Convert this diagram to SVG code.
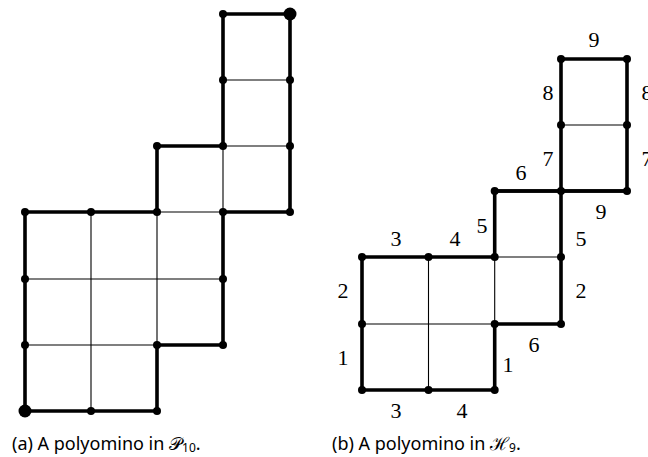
<svg xmlns="http://www.w3.org/2000/svg" width="648" height="457" viewBox="0 0 648 457">
<style>
.thick{fill:none;stroke:#000;stroke-width:3.6;stroke-linejoin:miter;stroke-linecap:square}
.thin{fill:none;stroke:#000;stroke-width:1.1}
.dot{fill:#000}
.num{font-family:"Liberation Serif","DejaVu Serif",serif;font-size:22px;text-anchor:middle;fill:#000}
.cap{font-family:"Noto Sans","Open Sans",sans-serif;font-size:18px;fill:#000}
.sub{font-size:12px}
</style>
<rect width="648" height="457" fill="#fff"/>
<g id="polyomino-a">
  <g id="a-thin">
    <path class="thin" d="M223,80H290M223,146H290M223,146V212M157,212H223M91,212V411M157,212V345M25,279H223M25,345H157"/>
  </g>
  <g id="a-boundary">
    <path class="thick" d="M25,212H157V146H223V14H290V212H223V345H157V411H25Z"/>
  </g>
  <g id="a-dots" class="dot">
    <circle cx="223" cy="14" r="4"/><circle cx="290" cy="14" r="6.5"/>
    <circle cx="223" cy="80" r="4"/><circle cx="290" cy="80" r="4"/>
    <circle cx="157" cy="146" r="4"/><circle cx="223" cy="146" r="4"/><circle cx="290" cy="146" r="4"/>
    <circle cx="25" cy="212" r="4"/><circle cx="91" cy="212" r="4"/><circle cx="157" cy="212" r="4"/><circle cx="223" cy="212" r="4"/><circle cx="290" cy="212" r="4"/>
    <circle cx="25" cy="279" r="4"/><circle cx="223" cy="279" r="4"/>
    <circle cx="25" cy="345" r="4"/><circle cx="157" cy="345" r="4"/><circle cx="223" cy="345" r="4"/>
    <circle cx="25" cy="411" r="6.5"/><circle cx="91" cy="411" r="4"/><circle cx="157" cy="411" r="4"/>
  </g>
  <text class="cap" x="12" y="450">(a) A polyomino in 𝒫<tspan class="sub" dy="2">10</tspan><tspan dy="-2">.</tspan></text>
</g>
<g id="polyomino-b">
  <g id="b-thin">
    <path class="thin" d="M561,125H627M494.7,257H561M494.7,257V324M428.5,257V390M362,324H494.7"/>
  </g>
  <g id="b-boundary">
    <path class="thick" d="M362,257H494.7V191H561V59H627V191H561V324H494.7V390H362Z"/>
    <path class="thick" d="M494.7,191H627"/>
  </g>
  <g id="b-dots" class="dot">
    <circle cx="561" cy="59" r="4"/><circle cx="627" cy="59" r="4"/>
    <circle cx="561" cy="125" r="4"/><circle cx="627" cy="125" r="4"/>
    <circle cx="494.7" cy="191" r="4"/><circle cx="561" cy="191" r="4"/><circle cx="627" cy="191" r="4"/>
    <circle cx="362" cy="257" r="4"/><circle cx="428.5" cy="257" r="4"/><circle cx="494.7" cy="257" r="4"/><circle cx="561" cy="257" r="4"/>
    <circle cx="362" cy="324" r="4"/><circle cx="494.7" cy="324" r="4"/><circle cx="561" cy="324" r="4"/>
    <circle cx="362" cy="390" r="4"/><circle cx="428.5" cy="390" r="4"/><circle cx="494.7" cy="390" r="4"/>
  </g>
  <g id="b-labels">
    <text class="num" x="594" y="47">9</text>
    <text class="num" x="548" y="100">8</text>
    <text class="num" x="647" y="100">8</text>
    <text class="num" x="548" y="166">7</text>
    <text class="num" x="647" y="166">7</text>
    <text class="num" x="521" y="180">6</text>
    <text class="num" x="601" y="219">9</text>
    <text class="num" x="482" y="233">5</text>
    <text class="num" x="396" y="246">3</text>
    <text class="num" x="455" y="246">4</text>
    <text class="num" x="581" y="246">5</text>
    <text class="num" x="343" y="298">2</text>
    <text class="num" x="581" y="298">2</text>
    <text class="num" x="534" y="352">6</text>
    <text class="num" x="343" y="365">1</text>
    <text class="num" x="508" y="372">1</text>
    <text class="num" x="396" y="418">3</text>
    <text class="num" x="462" y="418">4</text>
  </g>
  <text class="cap" x="332" y="450">(b) A polyomino in ℋ<tspan class="sub" dy="2">9</tspan><tspan dy="-2">.</tspan></text>
</g>
</svg>
